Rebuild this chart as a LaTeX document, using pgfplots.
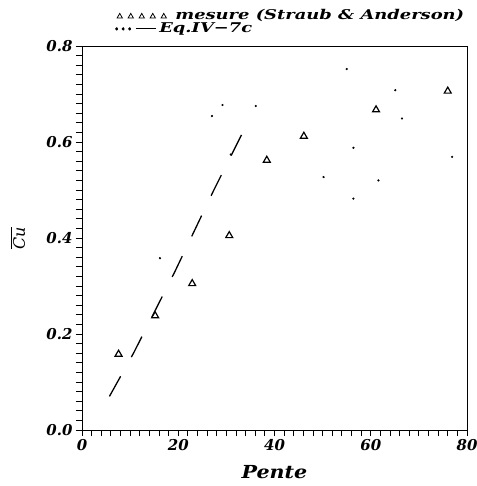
\documentclass[border=0pt]{standalone}
\usepackage{fontspec}
\setmainfont{DejaVu Serif}
\newfontfamily\legfont[FakeStretch=1.33]{DejaVu Serif}
\newfontfamily\labfont[FakeStretch=1.15]{DejaVu Serif}
\usepackage{pgfplots}
\pgfplotsset{compat=1.18}
\begin{document}
\begin{tikzpicture}
\begin{axis}[
    scale only axis,
    width=385bp, height=384bp,
    xmin=0, xmax=80,
    ymin=0, ymax=0.8,
    xtick={0,20,40,60,80},
    ytick={0,0.2,0.4,0.6,0.8},
    minor x tick num=9,
    minor y tick num=9,
    tick align=outside,
    tick pos=left,
    major tick length=6bp,
    minor tick length=6bp,
    tick style={black, line width=0.8pt},
    axis line style={line width=1pt},
    /pgf/number format/assume math mode=true,
    ticklabel style={font=\fontsize{15}{17}\selectfont\bfseries\itshape},
    yticklabel style={/pgf/number format/fixed,
        /pgf/number format/fixed zerofill,
        /pgf/number format/precision=1},
    xlabel={Pente},
    xlabel style={at={(rel axis cs:0.5,-0.109)}, anchor=center,
        font=\fontsize{18}{20}\selectfont\labfont\bfseries\itshape},
    ylabel={$\overline{\mbox{\itshape Cu}}$},
    ylabel style={at={(rel axis cs:-0.166,0.5)}, anchor=center,
        font=\fontsize{16}{18}\selectfont},
    legend style={at={(rel axis cs:0.086,1.029)}, anchor=south west,
        draw=none, fill=none, inner sep=0pt,
        font=\fontsize{13.5}{15}\selectfont\legfont\bfseries\itshape,
        nodes={inner ysep=0pt, inner xsep=2bp, text height=9bp, text depth=2.5bp},
        row sep=1bp},
    legend cell align=left,
]

% mesure (Straub & Anderson)
\addplot[only marks, mark=triangle, mark size=4bp, line width=1.2pt,
    legend image code/.code={
        \draw[only marks, mark=triangle, mark size=3bp, line width=0.8pt]
        plot coordinates {(4bp,0bp) (15bp,0bp) (26bp,0bp) (37bp,0bp) (48bp,0bp)};
    }]
    coordinates {
    (7.6,0.158)(15.2,0.238)(22.9,0.305)(30.6,0.405)
    (38.4,0.562)(46.1,0.612)(61.1,0.667)(76.0,0.706)
    };
\addlegendentry{\hspace*{7bp}mesure (Straub \& Anderson)}

% Eq.IV-7c, dashed part
\addplot[black, line width=1.3pt, dash pattern=on 23bp off 22bp,
    legend image code/.code={
        \fill (1bp,0bp) circle (0.8bp);
        \fill (7.5bp,0bp) circle (0.8bp);
        \fill (14bp,0bp) circle (0.8bp);
        \draw[line width=0.9pt, solid] (20bp,0bp) -- (40bp,0bp);
    }]
    coordinates {
    (5.7,0.070)(10.7,0.160)(19.3,0.330)(27.4,0.500)(33.9,0.630)
    };
\addlegendentry{\hspace*{-9bp}Eq.IV−7c}

% Eq.IV-7c, dotted points
\addplot[only marks, mark=*, mark size=0.9pt, forget plot]
    coordinates {
    (36.1,0.675)(29.2,0.677)(27.0,0.654)(16.2,0.358)(30.9,0.574)
    (55.0,0.752)(65.1,0.708)(66.5,0.649)(56.4,0.588)(50.2,0.527)
    (61.6,0.520)(56.4,0.482)(76.9,0.569)
    };

\end{axis}
\pgfresetboundingbox
\path[use as bounding box] (current axis.south west) ++(-82bp,-56bp)
    rectangle ([shift={(10bp,46bp)}]current axis.north east);
\end{tikzpicture}
\end{document}
